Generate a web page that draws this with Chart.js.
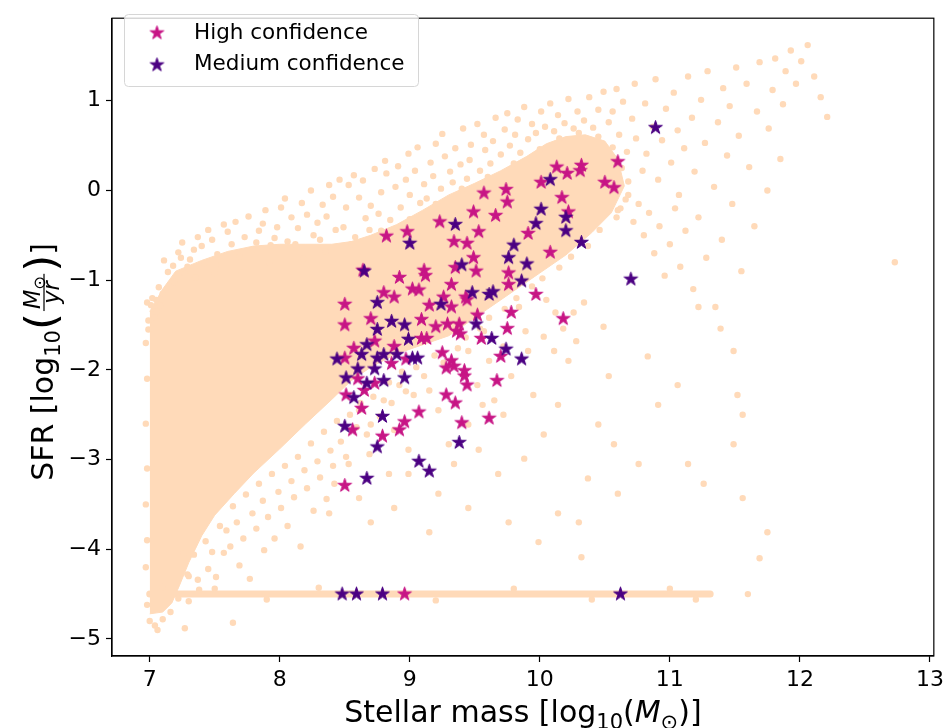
<!DOCTYPE html>
<html>
<head>
<meta charset="utf-8">
<script src="https://cdn.jsdelivr.net/npm/chart.js@4.4.0/dist/chart.umd.min.js"></script>
<style>
html, body { margin: 0; padding: 0; background: #fff; }
</style>
</head>
<body>
<canvas id="sfrChart" width="949" height="728"></canvas>
<script>
// ---- data ----
const xTickValues = [7, 8, 9, 10, 11, 12, 13];
const yTickValues = [-5, -4, -3, -2, -1, 0, 1];

// stars: [stellar mass, SFR]
const highConf = [
  [10.60,0.32],[10.13,0.26],[10.32,0.28],[10.31,0.22],[10.21,0.19],[10.01,0.09],[10.50,0.09],[10.57,0.03],
  [10.17,-0.08],[10.22,-0.24],[10.08,-0.69],[9.57,-0.03],[9.74,0.01],[9.75,-0.13],[9.49,-0.24],[9.66,-0.28],
  [9.91,-0.48],[9.53,-0.46],[9.44,-0.59],[9.49,-0.75],[9.51,-0.90],[9.76,-0.92],[9.76,-1.05],[9.97,-1.16],
  [9.23,-0.35],[8.82,-0.51],[8.98,-0.46],[9.34,-0.57],[8.64,-0.89],[9.11,-0.89],[9.12,-0.95],[8.92,-0.97],
  [9.35,-0.86],[9.32,-1.05],[8.80,-1.14],[8.88,-1.19],[9.02,-1.10],[9.07,-1.11],[8.50,-1.27],[9.26,-1.19],
  [9.43,-1.19],[9.15,-1.28],[9.32,-1.30],[8.70,-1.43],[8.50,-1.50],[9.09,-1.44],[9.20,-1.52],[9.29,-1.49],
  [9.38,-1.49],[8.57,-1.76],[8.73,-1.68],[8.88,-1.74],[9.09,-1.65],[9.13,-1.65],[9.36,-1.57],[8.50,-1.87],
  [8.97,-1.88],[8.86,-1.93],[9.25,-1.81],[9.32,-1.90],[9.28,-1.98],[9.34,-1.96],[9.42,-2.01],[9.42,-2.07],
  [8.60,-2.10],[8.73,-2.15],[8.65,-2.23],[9.44,-2.17],[8.51,-2.28],[9.28,-2.28],[9.35,-2.37],[8.63,-2.43],
  [9.07,-2.47],[8.56,-2.67],[8.96,-2.58],[8.92,-2.67],[9.40,-2.59],[8.79,-2.74],[8.50,-3.29],[9.44,-1.22],
  [9.78,-1.36],[10.18,-1.43],[9.52,-1.39],[9.75,-1.54],[9.39,-1.60],[9.55,-1.65],[9.70,-1.85],[9.67,-2.12],
  [9.61,-2.54],[8.96,-4.50]
];
const mediumConf = [
  [10.89,0.70],[10.08,0.12],[10.01,-0.21],[10.20,-0.30],[10.20,-0.45],[10.32,-0.58],[10.70,-0.99],[9.97,-0.37],
  [9.80,-0.61],[9.40,-0.83],[9.76,-0.75],[9.90,-0.82],[9.86,-1.01],[9.48,-1.14],[9.61,-1.16],[9.64,-1.13],
  [9.35,-0.38],[9.00,-0.59],[8.65,-0.90],[8.75,-1.25],[9.24,-1.27],[8.86,-1.46],[8.75,-1.55],[8.96,-1.50],
  [8.67,-1.72],[8.99,-1.66],[8.44,-1.88],[8.63,-1.83],[8.75,-1.87],[8.80,-1.83],[8.90,-1.83],[9.02,-1.87],
  [9.06,-1.87],[8.60,-1.99],[8.73,-1.99],[8.51,-2.09],[8.67,-2.15],[8.80,-2.12],[8.96,-2.09],[8.57,-2.31],
  [8.79,-2.52],[8.50,-2.63],[8.75,-2.86],[9.38,-2.81],[9.07,-3.02],[9.15,-3.13],[8.67,-3.21],[9.51,-1.49],
  [9.63,-1.65],[9.74,-1.77],[9.86,-1.88],[8.48,-4.50],[8.59,-4.50],[8.79,-4.50],[10.62,-4.50]
];

// the full sample: outline of the dense core, then the scattered galaxies around it
const coreTop = [
  [7.0,-1.35],[7.1,-1.1],[7.2,-0.9],[7.4,-0.78],[7.6,-0.68],[7.8,-0.62],[8.0,-0.6],[8.2,-0.6],
  [8.4,-0.6],[8.55,-0.57],[8.7,-0.5],[8.9,-0.38],[9.1,-0.22],[9.3,-0.05],[9.5,0.08],[9.7,0.22],
  [9.9,0.38],[10.05,0.52],[10.2,0.6],[10.35,0.62],[10.5,0.55],[10.6,0.35],[10.65,0.05]
];
const coreBottom = [
  [7.0,-4.72],[7.1,-4.7],[7.17,-4.6],[7.23,-4.4],[7.3,-4.15],[7.4,-3.85],[7.5,-3.62],[7.65,-3.38],
  [7.8,-3.15],[8.0,-2.88],[8.2,-2.6],[8.4,-2.33],[8.55,-2.12],[8.7,-1.97],[8.9,-1.82],[9.1,-1.72],
  [9.3,-1.62],[9.45,-1.47],[9.6,-1.32],[9.8,-1.12],[10.0,-0.92],[10.2,-0.72],[10.4,-0.47],[10.55,-0.25],
  [10.65,0.05]
];
// galaxies without measurable SFR, plotted at the floor value
const floorLine = [[7.0,-4.5],[11.31,-4.5]];

const samplePoints = [
  // left edge of the low-mass strip
  [6.98,-1.25],[7.02,-1.2],[7.05,-1.35],[6.99,-1.45],[7.08,-1.28],[7.01,-1.28],[7.04,-1.42],[6.99,-1.55],
  [6.97,-1.7],[6.98,-2.1],[6.97,-2.6],[6.98,-3.1],[6.97,-3.5],[6.98,-3.9],[6.97,-4.2],[6.98,-4.62],
  [7.0,-4.8],[7.04,-4.85],[7.1,-4.78],[7.06,-4.9],[7.16,-4.7],[7.22,-4.55],[7.27,-4.88],[7.64,-4.82],
  [7.3,-4.3],[7.26,-4.05],
  // upper left
  [7.07,-1.08],[7.14,-0.91],[7.11,-0.78],[7.19,-1.02],[7.22,-0.69],[7.18,-0.84],[7.27,-0.93],[7.25,-0.58],
  [7.31,-0.77],[7.37,-0.52],[7.34,-0.66],[7.29,-0.85],[7.42,-0.81],[7.45,-0.44],[7.4,-0.62],[7.52,-0.71],
  [7.48,-0.55],[7.57,-0.38],[7.55,-0.83],[7.63,-0.6],[7.6,-0.46],[7.69,-0.74],[7.66,-0.35],[7.73,-0.52],
  [7.79,-0.66],[7.76,-0.29],[7.84,-0.45],[7.82,-0.58],[7.89,-0.22],[7.93,-0.61],[7.87,-0.37],[7.98,-0.41],
  [8.01,-0.19],[7.96,-0.53],[8.06,-0.57],[8.09,-0.3],[8.04,-0.09],[8.14,-0.42],[8.17,-0.14],[8.12,-0.6],
  [8.21,-0.27],[8.26,-0.5],[8.24,0.0],[8.29,-0.36],[8.33,-0.16],[8.31,-0.55],[8.38,0.06],[8.36,-0.29],
  [8.43,-0.44],[8.41,-0.07],[8.46,0.12],[7.05,-1.22],[7.1,-1.15],[7.24,-0.75],[7.5,-0.92],[7.71,-0.92],
  [7.92,-0.8],[8.18,-0.76],[8.35,-0.68],[7.35,-0.97],
  // above the main sequence
  [8.49,-0.41],[8.53,0.06],[8.51,-0.19],[8.58,-0.52],[8.61,-0.08],[8.57,0.17],[8.66,-0.31],[8.64,0.11],
  [8.7,-0.17],[8.73,0.24],[8.69,-0.44],[8.78,-0.02],[8.76,-0.26],[8.82,0.19],[8.85,-0.33],[8.81,0.33],
  [8.89,0.04],[8.93,-0.19],[8.91,0.27],[8.97,0.12],[9.0,-0.05],[8.99,0.41],[9.04,0.22],[9.08,-0.14],
  [9.06,0.48],[9.11,0.07],[9.16,0.31],[9.13,-0.09],[9.2,0.52],[9.18,0.16],[9.24,0.02],[9.27,0.38],
  [9.25,0.63],[9.31,0.21],[9.35,0.47],[9.33,0.09],[9.39,0.29],[9.41,0.69],[9.44,0.13],[9.47,0.51],
  [9.46,0.34],[9.52,0.74],[9.54,0.22],[9.58,0.45],[9.57,0.62],[9.62,0.3],[9.66,0.81],[9.64,0.55],
  [9.7,0.4],[9.73,0.68],[9.77,0.5],[9.75,0.86],[9.81,0.62],[9.85,0.42],[9.83,0.79],[9.88,0.93],
  [9.91,0.57],[9.94,0.74],[9.97,0.64],[10.01,0.88],[10.04,0.71],[10.08,0.97],[10.11,0.66],[10.14,0.84],
  [10.19,0.75],[10.22,1.02],[10.26,0.69],[10.29,0.88],[10.34,0.78],[10.38,1.04],[10.41,0.7],[10.45,0.9],
  [10.49,1.1],[10.53,0.76],
  // edge of the dense core
  [8.55,-0.6],[8.78,-0.45],[9.0,-0.32],[9.2,-0.15],[9.4,0.02],[9.6,0.15],[9.8,0.3],[10.0,0.46],
  [10.15,0.58],[10.3,0.64],[10.45,0.6],[10.56,0.48],[10.63,0.25],[10.68,0.1],[10.66,-0.1],[10.6,-0.22],
  // high mass end
  [10.56,0.88],[10.59,1.13],[10.61,0.62],[10.64,0.99],[10.67,0.43],[10.71,0.8],[10.73,1.19],[10.74,0.58],
  [10.79,0.22],[10.81,0.97],[10.82,0.41],[10.87,0.71],[10.89,1.24],[10.91,0.12],[10.94,0.56],[10.97,0.91],
  [11.01,0.31],[11.03,1.09],[11.06,0.67],[11.07,-0.05],[11.11,0.47],[11.14,1.27],[11.17,0.81],[11.19,0.21],
  [11.24,1.01],[11.27,0.53],[11.29,1.33],[11.34,0.04],[11.37,0.76],[11.41,1.14],[11.44,0.39],[11.46,0.94],
  [11.51,1.37],[11.53,0.61],[11.59,1.19],[11.61,0.26],[11.67,0.88],[11.69,1.43],[11.76,0.69],[11.79,1.12],
  [11.81,1.47],[11.87,0.96],[11.89,1.33],[11.93,1.56],[11.97,1.19],[12.01,1.44],[12.06,1.62],[12.11,1.27],
  [12.16,1.04],[12.21,0.82],
  [10.62,-0.2],[10.68,-0.05],[10.72,-0.35],[10.76,-0.15],[10.8,-0.5],[10.84,-0.25],[10.88,-0.7],[10.92,-0.4],
  [10.96,-0.95],[11.0,-0.6],[11.04,-0.2],[11.08,-0.85],[11.12,-0.45],[11.18,-1.1],[11.22,-0.3],[11.28,-0.75],
  [11.35,-1.3],[11.4,-0.55],[11.48,-0.15],[11.55,-0.9],[11.65,-0.4],[11.75,0.0],[11.85,0.35],[12.73,-0.8],
  // quenched tail at high mass
  [11.22,-1.30],[11.39,-1.54],[11.49,-1.79],[11.52,-2.28],[11.56,-2.50],[11.49,-2.83],[11.14,-3.05],[11.26,-3.27],
  [11.56,-3.43],[11.75,-3.81],[11.69,-4.10],[10.76,-3.05],[10.60,-3.38],[10.49,-1.52],[10.53,-2.07],[10.45,-2.61],
  [10.57,-2.83],[10.83,-1.85],[10.91,-2.39],[11.06,-2.17],[10.37,-3.21],[10.30,-3.70],[10.32,-4.09],[10.14,-3.60],
  // below the main sequence
  [10.05,-1.22],[10.12,-1.36],[10.18,-1.54],[10.26,-1.36],[10.28,-1.68],[10.34,-1.25],[10.03,-1.63],[10.11,-1.79],
  [10.22,-1.90],[9.89,-1.57],[9.84,-1.30],[9.91,-1.79],[9.72,-1.74],[9.57,-1.57],[9.61,-1.90],[9.78,-2.07],
  [9.52,-2.17],[9.65,-2.34],[9.45,-1.79],[9.56,-2.39],[9.72,-2.50],[9.45,-2.61],[9.95,-2.28],[10.14,-2.39],
  [10.03,-2.72],[9.88,-2.99],[9.68,-3.16],[9.53,-2.89],[9.34,-3.05],[9.22,-3.38],[9.45,-3.54],[9.76,-3.70],
  [9.99,-3.92],[9.15,-3.81],[8.88,-3.54],
  [8.92,-2.17],[9.03,-2.28],[9.15,-2.23],[8.80,-2.34],[8.88,-2.67],[8.99,-2.89],[9.22,-2.45],[9.30,-2.83],
  [8.70,-2.61],[8.61,-2.45],[8.69,-2.94],[8.84,-3.16],[8.99,-3.16],[8.53,-3.05],[8.42,-3.27],[8.61,-3.43],
  [8.38,-3.60],[8.70,-3.70],
  // lower left, under the core
  [7.29,-4.28],[7.34,-4.06],[7.37,-4.34],[7.43,-3.91],[7.38,-4.45],[7.48,-4.03],[7.45,-4.22],[7.54,-3.74],
  [7.51,-4.31],[7.59,-3.79],[7.57,-4.04],[7.64,-3.52],[7.62,-3.97],[7.67,-3.7],[7.69,-4.18],[7.74,-3.39],
  [7.72,-3.88],[7.79,-3.6],[7.77,-4.33],[7.84,-3.27],[7.82,-3.77],[7.87,-3.46],[7.88,-4.01],[7.94,-3.16],
  [7.91,-3.64],[7.99,-3.36],[7.96,-3.88],[8.04,-3.07],[8.01,-3.54],[8.09,-3.24],[8.06,-3.74],[8.14,-2.97],
  [8.11,-3.42],[8.19,-3.12],[8.16,-3.97],[8.24,-2.82],[8.21,-3.32],[8.29,-3.02],[8.26,-3.57],[8.34,-2.69],
  [8.31,-3.2],[8.39,-2.9],[8.36,-3.44],[8.44,-2.57],[8.41,-3.07],[8.47,-2.8],[8.54,-2.5],[8.51,-2.97],
  [8.59,-2.64],[8.62,-2.37],[8.67,-2.72],[8.72,-2.3],[8.77,-2.52],[8.84,-2.14],[8.86,-2.37],[8.94,-2.02],
  [8.97,-2.24],[9.05,-1.97],[9.11,-2.07],[9.19,-1.84],[9.26,-1.92],[9.37,-1.76],[9.43,-1.64],[9.54,-1.54],
  [9.61,-1.42],[9.73,-1.32],[9.82,-1.2],[9.94,-1.07],[10.02,-0.98],[10.15,-0.86],[10.24,-0.74],[10.37,-0.62],
  [10.46,-0.44],[10.59,-0.3],
  // scatter around the floor
  [7.1,-4.42],[7.3,-4.58],[7.5,-4.44],[7.9,-4.56],[8.3,-4.43],[9.2,-4.57],[9.8,-4.44],[10.4,-4.56],
  [11.0,-4.44],[11.2,-4.56],[11.6,-4.5]
];

// ---- styling ----
const peach = '#FFDAB9';
const highColor = '#C71585';
const mediumColor = '#4B0082';
const font = '"DejaVu Sans", sans-serif';

function toXY(arr) {
    return arr.map(p => ({x: p[0], y: p[1]}));
}

// matplotlib-like filled star marker
function makeStar(color, r) {
    let c = document.createElement('canvas');
    let s = Math.ceil(r * 2 + 4);
    c.width = s;
    c.height = s;
    let g = c.getContext('2d');
    g.translate(s / 2, s / 2);
    g.beginPath();
    for (let i = 0; i < 10; i++) {
        let rad = i % 2 ? r * 0.381966 : r;
        let a = -Math.PI / 2 + i * Math.PI / 5;
        g.lineTo(rad * Math.cos(a), rad * Math.sin(a));
    }
    g.closePath();
    g.fillStyle = color;
    g.fill();
    g.lineWidth = 1;
    g.strokeStyle = color;
    g.stroke();
    return c;
}
let starHigh = makeStar(highColor, 7.2);
let starMedium = makeStar(mediumColor, 7.2);

// text with subscripts and a fraction, drawn run by run
function runFont(r) {
    return (r.italic ? 'italic ' : '') + r.size + 'px ' + font;
}
function measureRuns(g, runs) {
    let w = 0;
    runs.forEach(r => {
        if (r.frac) {
            r.w = Math.max(measureRuns(g, r.num), measureRuns(g, r.den)) + 8;
        } else {
            g.font = runFont(r);
            r.w = g.measureText(r.t).width;
        }
        w += r.w;
    });
    return w;
}
function drawRuns(g, runs, x, y) {
    runs.forEach(r => {
        if (r.frac) {
            let nw = measureRuns(g, r.num), dw = measureRuns(g, r.den);
            let barY = y - r.axis;
            drawRuns(g, r.num, x + (r.w - nw) / 2, barY - 4);
            drawRuns(g, r.den, x + (r.w - dw) / 2, barY + r.denDrop);
            g.fillRect(x + 2, barY - 0.6, r.w - 4, 1.2);
        } else {
            g.font = runFont(r);
            g.fillText(r.t, x, y + (r.dy || 0));
        }
        x += r.w;
    });
}

const S = 30;
const xTitleRuns = [
    {t: 'Stellar mass [log', size: S},
    {t: '10', size: S * 0.7, dy: S * 0.22},
    {t: '(', size: S},
    {t: 'M', size: S, italic: true},
    {t: '\u2299', size: S * 0.7, dy: S * 0.22},
    {t: ')]', size: S}
];
const yTitleRuns = [
    {t: 'SFR [log', size: S},
    {t: '10', size: S * 0.7, dy: S * 0.22},
    {t: '(', size: S * 1.45, dy: S * 0.1},
    {frac: true, axis: S * 0.3, denDrop: S * 0.5,
        num: [{t: 'M', size: S * 0.75, italic: true}, {t: '\u2299', size: S * 0.55, dy: S * 0.15}],
        den: [{t: 'yr', size: S * 0.75, italic: true}]},
    {t: ')', size: S * 1.45, dy: S * 0.1},
    {t: ']', size: S}
];

const framePlugin = {
    id: 'frameAndLabels',
    afterDraw(chart) {
        let g = chart.ctx;
        let a = chart.chartArea;
        g.save();
        // full axes frame
        g.strokeStyle = '#000';
        g.lineWidth = 1.2;
        g.strokeRect(a.left, a.top, a.right - a.left, a.bottom - a.top);

        // axis titles
        g.fillStyle = '#000';
        g.textBaseline = 'alphabetic';
        let w = measureRuns(g, xTitleRuns);
        drawRuns(g, xTitleRuns, (a.left + a.right) / 2 - w / 2, 722);

        g.save();
        g.translate(53, 362);
        g.rotate(-Math.PI / 2);
        w = measureRuns(g, yTitleRuns);
        drawRuns(g, yTitleRuns, -w / 2, 0);
        g.restore();

        // legend
        g.beginPath();
        g.roundRect(124.5, 14.5, 294, 72, 4);
        g.fillStyle = 'rgba(255,255,255,0.8)';
        g.fill();
        g.strokeStyle = '#d6d6d6';
        g.lineWidth = 1;
        g.stroke();
        g.drawImage(starHigh, 157 - starHigh.width / 2, 33 - starHigh.height / 2);
        g.drawImage(starMedium, 157 - starMedium.width / 2, 65 - starMedium.height / 2);
        g.fillStyle = '#000';
        g.font = '21.5px ' + font;
        g.textBaseline = 'middle';
        g.fillText('High confidence', 194, 33);
        g.fillText('Medium confidence', 194, 64);
        g.restore();
    }
};

let ctx = document.getElementById('sfrChart').getContext('2d');
let sfrChart = new Chart(ctx, {
    type: 'scatter',
    data: {
        datasets: [{
            label: 'Medium confidence',
            data: toXY(mediumConf),
            pointStyle: starMedium,
            pointRadius: 7
        }, {
            label: 'High confidence',
            data: toXY(highConf),
            pointStyle: starHigh,
            pointRadius: 7
        }, {
            label: 'sample',
            data: toXY(samplePoints),
            backgroundColor: peach,
            borderWidth: 0,
            pointRadius: 3.2
        }, {
            label: 'floor',
            data: toXY(floorLine),
            showLine: true,
            borderColor: peach,
            borderWidth: 7,
            borderCapStyle: 'round',
            pointRadius: 0
        }, {
            label: 'core top',
            data: toXY(coreTop),
            showLine: true,
            borderColor: peach,
            borderWidth: 1,
            pointRadius: 0,
            fill: false
        }, {
            label: 'core bottom',
            data: toXY(coreBottom),
            showLine: true,
            borderColor: peach,
            borderWidth: 1,
            pointRadius: 0,
            backgroundColor: peach,
            fill: 4
        }]
    },
    options: {
        responsive: false,
        animation: false,
        events: [],
        devicePixelRatio: 1,
        layout: {
            padding: {left: 0, right: 15, top: 5, bottom: 0}
        },
        plugins: {
            legend: {
                display: false
            },
            tooltip: {
                enabled: false
            }
        },
        scales: {
            x: {
                type: 'linear',
                min: 6.71,
                max: 13.03,
                afterBuildTicks: axis => { axis.ticks = xTickValues.map(v => ({value: v})); },
                afterFit: axis => { axis.height = 72; },
                grid: {
                    drawOnChartArea: false,
                    drawTicks: true,
                    tickLength: 6,
                    tickColor: '#000',
                    tickWidth: 1.2
                },
                border: {
                    color: '#000',
                    width: 1.2
                },
                ticks: {
                    color: 'black',
                    padding: 5,
                    maxRotation: 0,
                    font: {family: font, size: 22}
                }
            },
            y: {
                type: 'linear',
                min: -5.19,
                max: 1.92,
                afterBuildTicks: axis => { axis.ticks = yTickValues.map(v => ({value: v})); },
                afterFit: axis => { axis.width = 112; },
                grid: {
                    drawOnChartArea: false,
                    drawTicks: true,
                    tickLength: 6,
                    tickColor: '#000',
                    tickWidth: 1.2
                },
                border: {
                    color: '#000',
                    width: 1.2
                },
                ticks: {
                    color: 'black',
                    padding: 5,
                    font: {family: font, size: 22},
                    callback: value => String(value).replace('-', '\u2212')
                }
            }
        }
    },
    plugins: [framePlugin]
});
</script>
</body>
</html>
